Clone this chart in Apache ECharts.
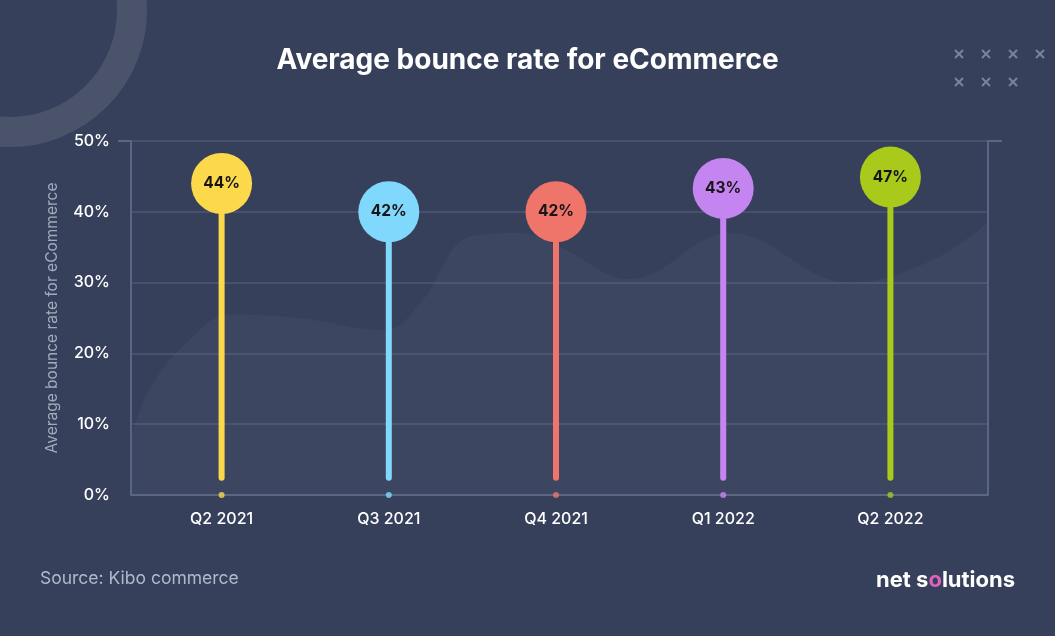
<!DOCTYPE html>
<html>
<head>
<meta charset="utf-8">
<style>
html,body{margin:0;padding:0;background:#37405b;}
#c{width:1055px;height:636px;}
</style>
<script src="https://cdn.jsdelivr.net/npm/echarts@6/dist/echarts.min.js"></script>
</head>
<body>
<div id="c"></div>
<script>
// ---- data ----
var categories = ['Q2 2021', 'Q3 2021', 'Q4 2021', 'Q1 2022', 'Q2 2022'];
var bubbleValues = [44, 40, 40, 43.3, 44.9];      // bubble centre positions as drawn
var valueLabels = ['44%', '42%', '42%', '43%', '47%'];
var stemBase = 2;
var colors = ['#fcd94b', '#80d9fd', '#ef746a', '#c585f1', '#a9c91b'];
var yTicks = [0, 10, 20, 30, 40, 50];
// decorative background wave: [x as % of plot width, y in %]
var waveX = [0, 2.2, 6.9, 11.6, 19.7, 29.6, 33.7, 39.6, 45.4, 50.1, 58.2, 69.9, 83.9, 93.2, 100];
var waveY = [8, 15, 22, 25.5, 25, 23.3, 27, 36.5, 37, 35, 30.5, 37, 30, 33, 38.5];

var FONT = 'Inter, "Noto Sans", sans-serif';
var chart = echarts.init(document.getElementById('c'));

var axisColor = '#5a6784';
var gridColor = '#47516c';

var xmarks = [];
var xmPos = [[959,54],[986,54],[1013,54],[1040,54],[959,82],[986,82],[1013,82]];
xmPos.forEach(function(p){
  xmarks.push({type:'line', shape:{x1:p[0]-4,y1:p[1]-4,x2:p[0]+4,y2:p[1]+4}, style:{stroke:'#7a839c', lineWidth:2}, silent:true});
  xmarks.push({type:'line', shape:{x1:p[0]-4,y1:p[1]+4,x2:p[0]+4,y2:p[1]-4}, style:{stroke:'#7a839c', lineWidth:2}, silent:true});
});

var option = {
  backgroundColor: '#37405b',
  animation: false,
  title: {
    text: 'Average bounce rate for eCommerce',
    left: 'center', top: 42,
    textStyle: {color: '#ffffff', fontSize: 28, fontWeight: 700, fontFamily: FONT}
  },
  grid: [
    {left: 131, right: 67, top: 141, bottom: 141},
    {left: 138, right: 81, top: 141, bottom: 141}
  ],
  xAxis: [
    {type: 'value', gridIndex: 0, min: 0, max: 100, show: false},
    {type: 'category', gridIndex: 1, data: categories, boundaryGap: true,
     axisLine: {show: false}, axisTick: {show: false},
     axisLabel: {color: '#ffffff', fontSize: 16, fontWeight: 500, fontFamily: FONT, margin: 16}}
  ],
  yAxis: [
    {type: 'value', gridIndex: 0, min: 0, max: 50, interval: 10,
     axisLine: {show: true, lineStyle: {color: axisColor, width: 2}},
     axisTick: {show: false},
     axisLabel: {formatter: '{value}%', color: '#ffffff', fontSize: 16, fontWeight: 500, fontFamily: FONT, margin: 21},
     splitLine: {show: true, lineStyle: {color: gridColor, width: 2}},
     name: 'Average bounce rate for eCommerce', nameLocation: 'middle', nameGap: 71,
     nameTextStyle: {color: '#a3aabd', fontSize: 15.5, fontFamily: FONT}},
    {type: 'value', gridIndex: 0, min: 0, max: 50, interval: 10, position: 'right',
     axisLine: {show: true, lineStyle: {color: axisColor, width: 2}},
     axisTick: {show: false}, axisLabel: {show: false}, splitLine: {show: false}},
    {type: 'value', gridIndex: 1, min: 0, max: 50, interval: 10, show: false}
  ],
  series: [
    {type: 'line', xAxisIndex: 0, yAxisIndex: 0, smooth: 0.4, symbol: 'none', z: 0,
     lineStyle: {width: 0},
     areaStyle: {color: 'rgba(255,255,255,0.045)'},
     data: waveX.map(function(x, i){ return [x, waveY[i]]; })},
    {type: 'line', xAxisIndex: 0, yAxisIndex: 0, symbol: 'none', z: 1,
     lineStyle: {color: axisColor, width: 2},
     data: [[0, 0], [100, 0]]},
    {type: 'bar', xAxisIndex: 1, yAxisIndex: 2, stack: 's', barWidth: 6, silent: true,
     itemStyle: {color: 'transparent'},
     data: categories.map(function(){ return stemBase; })},
    {type: 'bar', xAxisIndex: 1, yAxisIndex: 2, stack: 's', barWidth: 6, z: 3,
     data: bubbleValues.map(function(v, i){
       return {value: v - stemBase, itemStyle: {color: colors[i], borderRadius: 3}};
     })},
    {type: 'scatter', xAxisIndex: 1, yAxisIndex: 2, symbolSize: 6, z: 3,
     data: categories.map(function(c, i){ return {value: [i, 0], itemStyle: {color: colors[i]}}; })},
    {type: 'scatter', xAxisIndex: 1, yAxisIndex: 2, symbolSize: 61, z: 4,
     data: bubbleValues.map(function(v, i){
       return {value: [i, v], itemStyle: {color: colors[i], opacity: 1}};
     }),
     label: {show: true, position: 'inside',
       formatter: function(p){ return valueLabels[p.dataIndex]; },
       color: '#151515', fontSize: 15.5, fontWeight: 700, fontFamily: FONT}}
  ],
  graphic: [
    {type: 'circle', shape: {cx: 10, cy: 10, r: 122}, z: -10, silent: true,
     style: {fill: 'none', stroke: 'rgba(255,255,255,0.1)', lineWidth: 30}},
    {type: 'line', shape: {x1: 118, y1: 141, x2: 131, y2: 141}, style: {stroke: axisColor, lineWidth: 2}, silent: true},
    {type: 'line', shape: {x1: 988, y1: 141, x2: 1002, y2: 141}, style: {stroke: axisColor, lineWidth: 2}, silent: true},
    {type: 'text', left: 40, top: 570, silent: true,
     style: {text: 'Source: Kibo commerce', fill: '#b3b9ca', fontSize: 17.5, fontFamily: FONT}},
    {type: 'text', left: 876, top: 569, silent: true,
     style: {text: '{a|net s}{o|o}{a|lutions}', rich: {
       a: {fill: '#ffffff', fontSize: 22, fontWeight: 700, fontFamily: FONT},
       o: {fill: '#e060c0', fontSize: 22, fontWeight: 700, fontFamily: FONT}
     }}}
  ].concat(xmarks)
};
chart.setOption(option);
</script>
</body>
</html>
